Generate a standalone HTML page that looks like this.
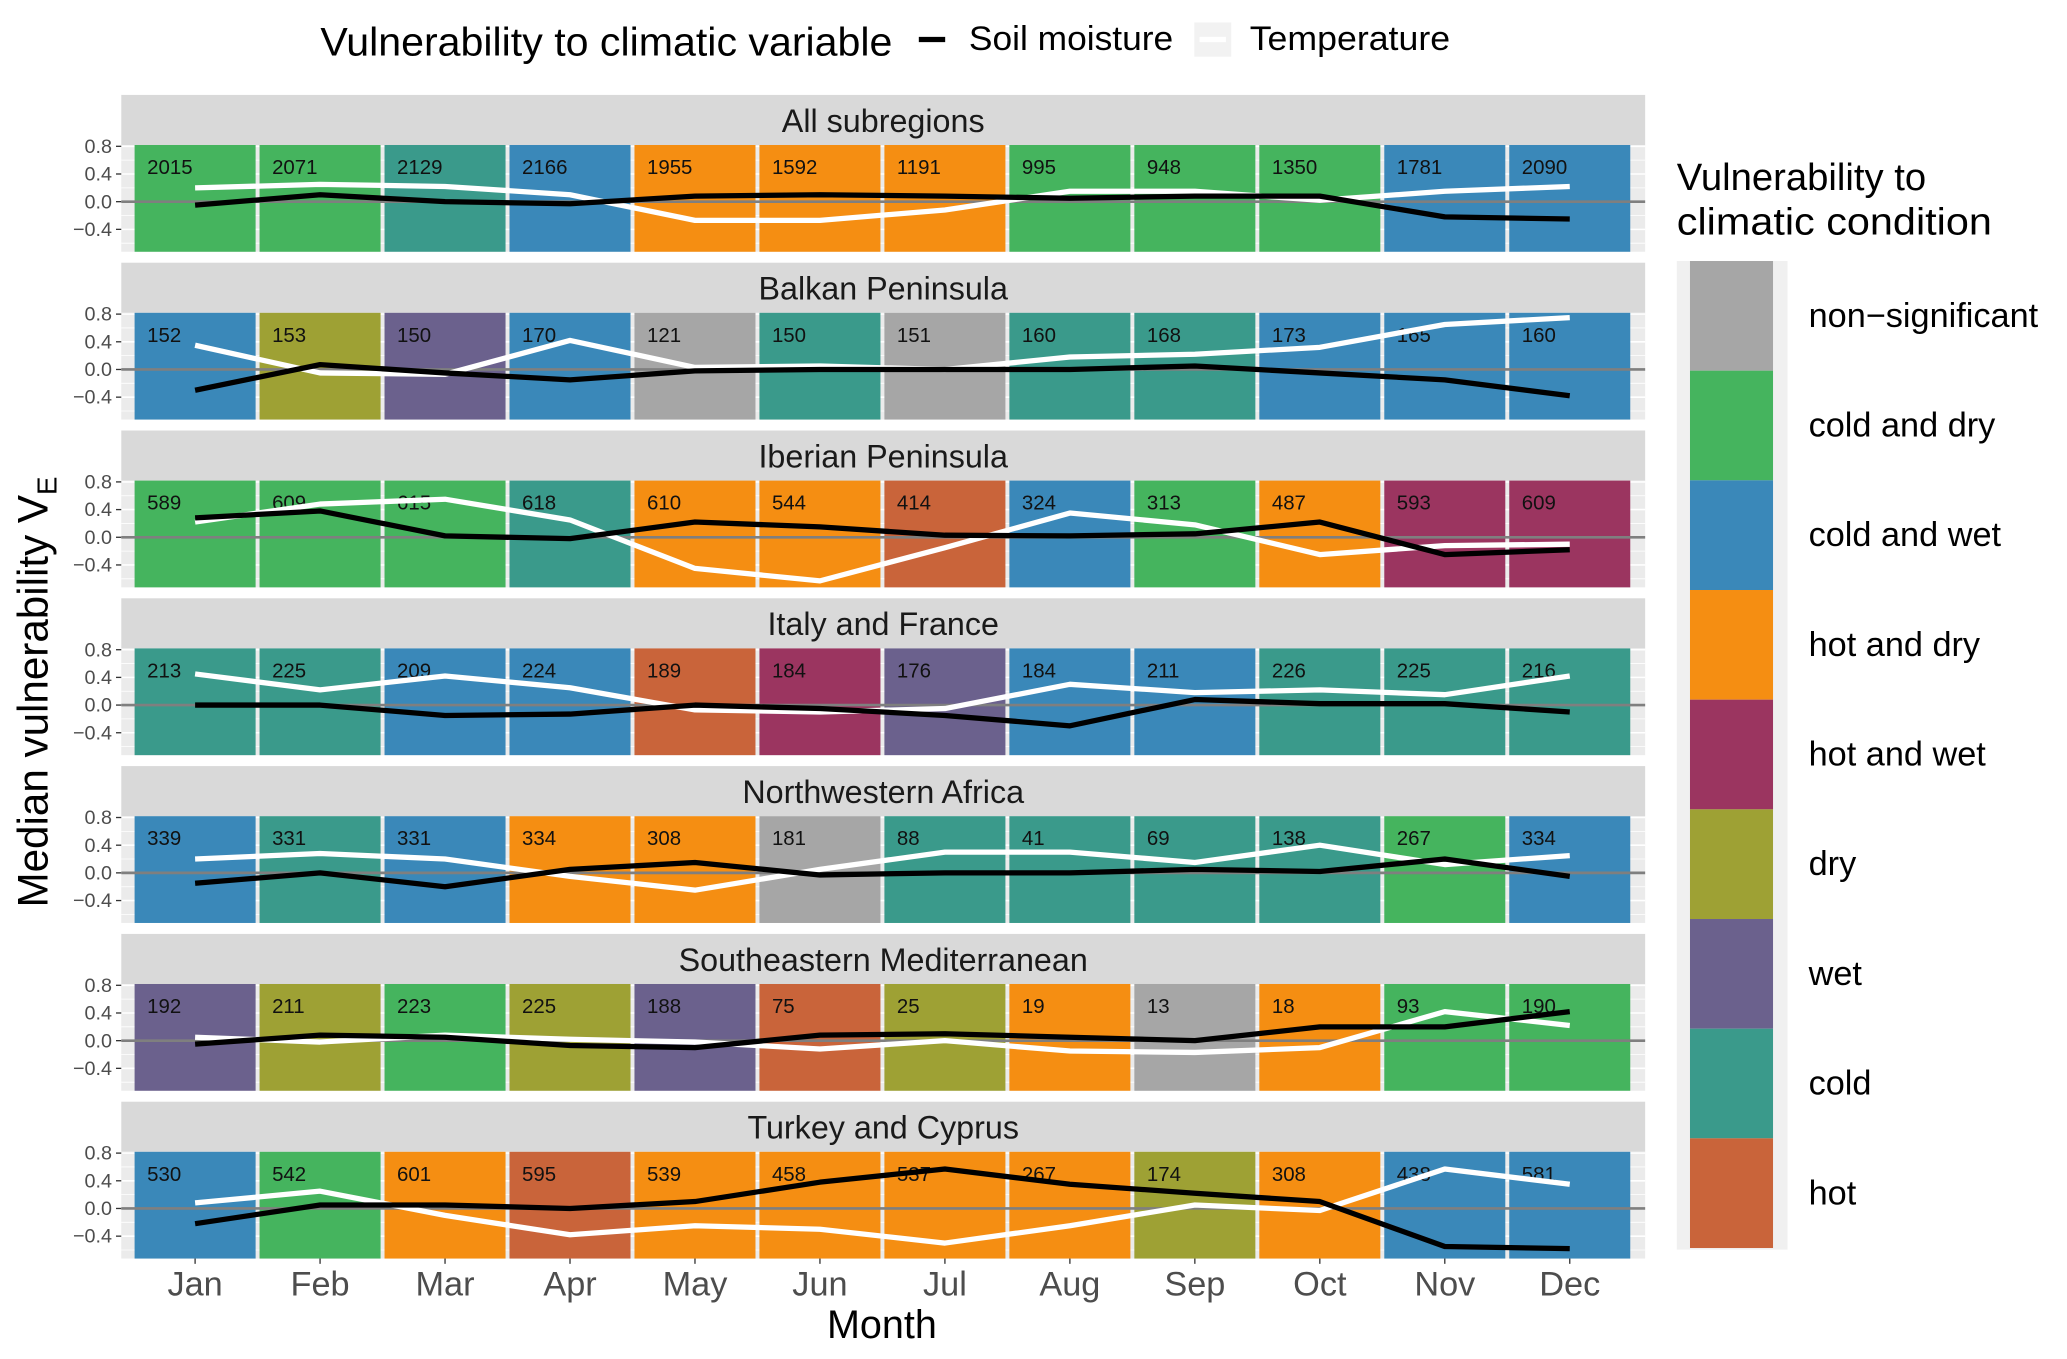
<!DOCTYPE html>
<html><head><meta charset="utf-8"><style>
html,body{margin:0;padding:0;background:#fff;}
svg{display:block;font-family:"Liberation Sans",Arial,sans-serif;}
</style></head><body>
<svg id="chart" width="2067" height="1359" viewBox="0 0 1568 1031" preserveAspectRatio="none" xmlns="http://www.w3.org/2000/svg">
<g id="panels"></g>
<g id="legend-top">
  <text x="243" y="42" font-size="30" fill="#000" textLength="434" lengthAdjust="spacingAndGlyphs">Vulnerability to climatic variable</text>
  <line x1="697" y1="30" x2="717" y2="30" stroke="#000" stroke-width="4"/>
  <text x="735" y="38" font-size="26" fill="#000" textLength="155" lengthAdjust="spacingAndGlyphs">Soil moisture</text>
  <rect x="906" y="17" width="28" height="26" fill="#f2f2f2"/>
  <line x1="910" y1="30" x2="930" y2="30" stroke="#fff" stroke-width="4"/>
  <text x="948" y="38" font-size="26" fill="#000" textLength="152" lengthAdjust="spacingAndGlyphs">Temperature</text>
</g>
<g id="legend-right">
  <text x="1272" y="144" font-size="29" fill="#000">Vulnerability to</text>
  <text x="1272" y="178" font-size="29" fill="#000" textLength="239" lengthAdjust="spacingAndGlyphs">climatic condition</text>
  <rect x="1272" y="198" width="84" height="750" fill="#f0f0f0"/>
</g>
<text x="669" y="1015" font-size="30" text-anchor="middle" fill="#000">Month</text>
<text transform="translate(36,525) rotate(-90)" font-size="32" text-anchor="middle" fill="#000">Median vulnerability V<tspan font-size="21" dy="7">E</tspan></text>
<g id="xaxis"></g>
</svg>
<script>
const months = ["Jan","Feb","Mar","Apr","May","Jun","Jul","Aug","Sep","Oct","Nov","Dec"];
const panelTitles = ["All subregions","Balkan Peninsula","Iberian Peninsula","Italy and France","Northwestern Africa","Southeastern Mediterranean","Turkey and Cyprus"];
const condNames = ["non\u2212significant","cold and dry","cold and wet","hot and dry","hot and wet","dry","wet","cold","hot"];
const condColors = ["#a6a6a6","#45b45e","#3a88b9","#f58e12","#9b3560","#9ea134","#6b618d","#3a9a8b","#c9643a"];
const conditions = [
 [1,1,7,2,3,3,3,1,1,1,2,2],
 [2,5,6,2,0,7,0,7,7,2,2,2],
 [1,1,1,7,3,3,8,2,1,3,4,4],
 [7,7,2,2,8,4,6,2,2,7,7,7],
 [2,7,2,3,3,0,7,7,7,7,1,2],
 [6,5,1,5,6,8,5,3,0,3,1,1],
 [2,1,3,8,3,3,3,3,5,3,2,2]
];
const counts = [
 [2015,2071,2129,2166,1955,1592,1191,995,948,1350,1781,2090],
 [152,153,150,170,121,150,151,160,168,173,165,160],
 [589,609,615,618,610,544,414,324,313,487,593,609],
 [213,225,209,224,189,184,176,184,211,226,225,216],
 [339,331,331,334,308,181,88,41,69,138,267,334],
 [192,211,223,225,188,75,25,19,13,18,93,190],
 [530,542,601,595,539,458,537,267,174,308,438,581]
];
const soil = [
 [-0.05,0.1,0.0,-0.03,0.08,0.1,0.08,0.05,0.08,0.08,-0.22,-0.25],
 [-0.3,0.07,-0.05,-0.15,-0.02,0.0,0.0,0.0,0.05,-0.05,-0.15,-0.38],
 [0.28,0.38,0.02,-0.02,0.22,0.15,0.03,0.02,0.05,0.22,-0.25,-0.18],
 [0.0,0.0,-0.15,-0.13,0.0,-0.05,-0.15,-0.3,0.08,0.02,0.02,-0.1],
 [-0.15,0.0,-0.2,0.05,0.15,-0.03,0.0,0.0,0.05,0.02,0.2,-0.05],
 [-0.05,0.08,0.05,-0.07,-0.1,0.08,0.1,0.05,0.0,0.2,0.2,0.42],
 [-0.22,0.05,0.05,0.0,0.1,0.38,0.57,0.35,0.22,0.1,-0.55,-0.58]
];
const temp = [
 [0.2,0.25,0.22,0.1,-0.27,-0.27,-0.12,0.15,0.15,0.02,0.15,0.22],
 [0.35,-0.05,-0.07,0.42,0.03,0.05,0.0,0.18,0.22,0.32,0.65,0.75],
 [0.22,0.48,0.55,0.25,-0.45,-0.63,-0.15,0.35,0.18,-0.25,-0.12,-0.1],
 [0.45,0.22,0.42,0.25,-0.07,-0.1,-0.05,0.3,0.18,0.22,0.15,0.42],
 [0.2,0.28,0.2,-0.05,-0.25,0.05,0.3,0.3,0.15,0.4,0.12,0.25],
 [0.05,-0.02,0.08,0.02,-0.02,-0.12,0.0,-0.15,-0.17,-0.1,0.42,0.22],
 [0.08,0.25,-0.1,-0.38,-0.25,-0.3,-0.5,-0.25,0.05,-0.03,0.57,0.35]
];
const yTicks = [0.8,0.4,0.0,-0.4];
const yTickLabels = ["0.8","0.4","0.0","\u22120.4"];

const NS = "http://www.w3.org/2000/svg";
function mk(tag, attrs, parent){const e=document.createElementNS(NS,tag);for(const k in attrs)e.setAttribute(k,attrs[k]);parent.appendChild(e);return e;}
const panelX0=92, panelX1=1248, period=127.3, stripH=38, plotH=81, firstTop=72;
const step=94.8, x0=148;
function xScale(i){return x0+i*step;}
function yScale(v,top){return top+43-v*52.5;}

const panels=document.getElementById("panels");
panelTitles.forEach((title,p)=>{
  const sTop=firstTop+p*period, pTop=sTop+stripH;
  const g=mk("g",{},panels);
  
  
  const strip=mk("rect",{x:panelX0,y:sTop,width:panelX1-panelX0,height:stripH,fill:"#d9d9d9"},g);
  
  
  const st=mk("text",{x:(panelX0+panelX1)/2,y:sTop+28,"font-size":24.5,"text-anchor":"middle",fill:"#1a1a1a"},g);
  st.textContent=title;
  
  
  const bg=mk("rect",{x:panelX0,y:pTop,width:panelX1-panelX0,height:plotH,fill:"#ebebeb"},g);
  
  
  [0.6,0.2,-0.2,-0.6].forEach(v=>{mk("line",{x1:panelX0,x2:panelX1,y1:yScale(v,pTop),y2:yScale(v,pTop),stroke:"#fff","stroke-width":0.6},g);});
  yTicks.forEach((v,i)=>{
    const y=yScale(v,pTop);
    mk("line",{x1:panelX0,x2:panelX1,y1:y,y2:y,stroke:"#fff","stroke-width":1.2},g);
    mk("line",{x1:panelX0-4,x2:panelX0,y1:y,y2:y,stroke:"#333","stroke-width":1},g);
    const t=mk("text",{x:panelX0-7,y:y+5,"font-size":15,"text-anchor":"end",fill:"#4d4d4d"},g);
    t.textContent=yTickLabels[i];
    
    
  });
  conditions[p].forEach((c,i)=>{
    const r=mk("rect",{x:xScale(i)-step/2+1.5,y:pTop,width:step-3,height:plotH,fill:condColors[c]},g);
    
    
    const t=mk("text",{x:xScale(i)-step/2+11,y:pTop+22,"font-size":15.5,fill:"#111"},g);
    t.textContent=counts[p][i];
    
    
  });
  const z=mk("line",{x1:panelX0,x2:panelX1,y1:yScale(0,pTop),y2:yScale(0,pTop),stroke:"#7f7f7f","stroke-width":2},g);
  
  
  const tl=mk("polyline",{points:temp[p].map((v,i)=>xScale(i)+","+yScale(v,pTop)).join(" "),fill:"none",stroke:"#fff","stroke-width":4,"stroke-linejoin":"round"},g);
  
  
  const sl=mk("polyline",{points:soil[p].map((v,i)=>xScale(i)+","+yScale(v,pTop)).join(" "),fill:"none",stroke:"#000","stroke-width":4,"stroke-linejoin":"round"},g);
  
  
});
const xa=document.getElementById("xaxis");
const lastBottom=firstTop+6*period+stripH+plotH;
months.forEach((m,i)=>{
  mk("line",{x1:xScale(i),x2:xScale(i),y1:lastBottom,y2:lastBottom+4,stroke:"#333","stroke-width":1},xa);
  const t=mk("text",{x:xScale(i),y:lastBottom+28,"font-size":26,"text-anchor":"middle",fill:"#4d4d4d"},xa);
  t.textContent=m;
  
  
});
const lr=document.getElementById("legend-right");
condNames.forEach((n,i)=>{
  const y=198+i*83.2;
  const r=mk("rect",{x:1282,y:y,width:63,height:83.2,fill:condColors[i]},lr);
  
  
  const t=mk("text",{x:1372,y:y+50,"font-size":26,fill:"#000"},lr);
  t.textContent=n;
  
  
});
</script>
</body></html>
